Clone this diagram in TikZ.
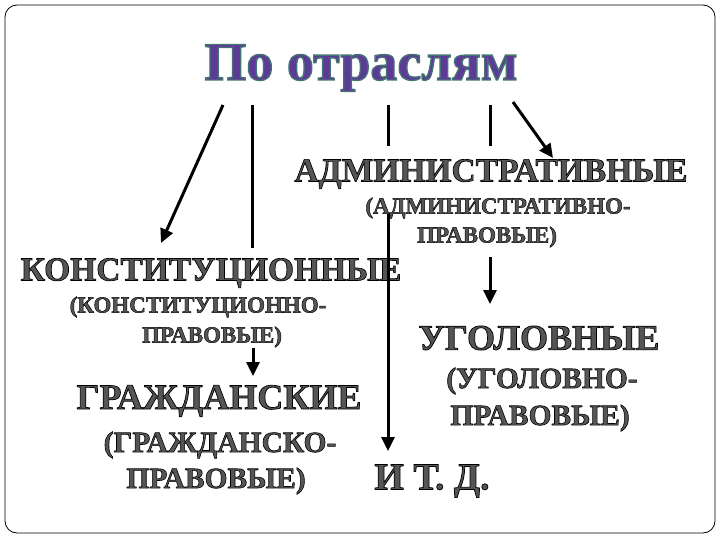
\documentclass[tikz,border=0pt]{standalone}
\usepackage{fontspec}
\setmainfont{Liberation Serif}
\newfontfamily\headfont[FakeBold=2.5]{Liberation Serif Bold}
\newfontfamily\engrfont[FakeBold=2]{Liberation Serif Bold}
\usetikzlibrary{arrows.meta}
\definecolor{titlefill}{RGB}{94,58,152}
\definecolor{engrave}{RGB}{85,85,85}
\newcommand{\headtext}[1]{{\color{titlefill}\special{pdf:code 0.27 0.45 0.45 RG}#1\special{pdf:code 0 0 0 RG}}}
\newcommand{\engr}[1]{{\color{engrave}\special{pdf:code 0 0 0 RG}#1}}

\begin{document}
\begin{tikzpicture}[x=1pt,y=-1pt,
   head/.style={font=\headfont\fontsize{54}{56}\selectfont,inner sep=0pt},
   big/.style={font=\engrfont\fontsize{33.5}{35}\selectfont,inner sep=0pt},
   bigger/.style={font=\engrfont\fontsize{36}{38}\selectfont,inner sep=0pt},
   small/.style={font=\engrfont\fontsize{23}{25}\selectfont,inner sep=0pt},
   mid/.style={font=\engrfont\fontsize{29.5}{31}\selectfont,inner sep=0pt},
   arr/.style={line width=3pt,-{Triangle[length=14pt,width=13pt]}},
   bar/.style={line width=3pt}]
\useasboundingbox (0,0) rectangle (720,540);
\draw [rounded corners=12pt,line width=0.8pt] (5,5) rectangle (715,533);

% title
\node [head] (head) at (361,68) {\headtext{По отраслям}};

% groups
\node [big] (adm)   at (491,174) {\engr{АДМИНИСТРАТИВНЫЕ}};
\node [small] (adm2) at (498,208) {\engr{(АДМИНИСТРАТИВНО-}};
\node [small] (adm3) at (487,237) {\engr{ПРАВОВЫЕ)}};

\node [big] (kon)   at (211,273) {\engr{КОНСТИТУЦИОННЫЕ}};
\node [small] (kon2) at (198,307) {\engr{(КОНСТИТУЦИОННО-}};
\node [small] (kon3) at (212,337) {\engr{ПРАВОВЫЕ)}};

\node [bigger] (ugo) at (539,338) {\engr{УГОЛОВНЫЕ}};
\node [mid] (ugo2)  at (542,381) {\engr{(УГОЛОВНО-}};
\node [mid] (ugo3)  at (540,418) {\engr{ПРАВОВЫЕ)}};

\node [bigger] (gra) at (219,401) {\engr{ГРАЖДАНСКИЕ}};
\node [mid] (gra2)  at (220,445) {\engr{(ГРАЖДАНСКО-}};
\node [mid] (gra3)  at (216,481) {\engr{ПРАВОВЫЕ)}};

\node [bigger,font=\engrfont\fontsize{38}{40}\selectfont] (etc) at (432,481) {\engr{И Т. Д.}};

% connectors
\coordinate (s1) at (223,105);  \coordinate (e1) at (161,243);
\coordinate (s2) at (252,105);  \coordinate (e2) at (252,248);
\coordinate (s3) at (388,105);  \coordinate (e3) at (388,146);
\coordinate (s4) at (490,105);  \coordinate (e4) at (490,146);
\coordinate (s5) at (513,102);  \coordinate (e5) at (553,158);
\coordinate (s6) at (253,348);  \coordinate (e6) at (253,376);
\coordinate (s7) at (490,257);  \coordinate (e7) at (490,304);
\coordinate (s8) at (388,214);  \coordinate (e8) at (388,451);

\draw [arr] (s1)--(e1);
\draw [bar] (s2)--(e2);
\draw [bar] (s3)--(e3);
\draw [bar] (s4)--(e4);
\draw [arr] (s5)--(e5);
\draw [arr] (s6)--(e6);
\draw [arr] (s7)--(e7);
\draw [arr] (s8)--(e8);

\end{tikzpicture}
\end{document}
